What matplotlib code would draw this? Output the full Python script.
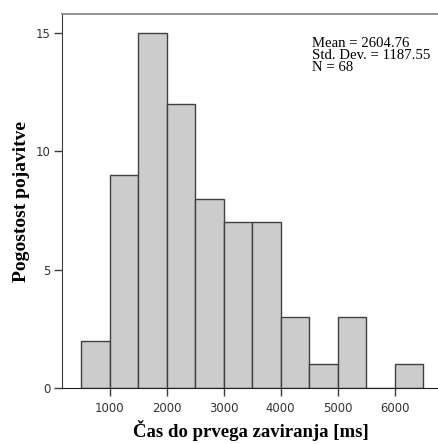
import matplotlib.pyplot as plt

bin_starts = [500, 1000, 1500, 2000, 2500, 3000, 3500, 4000, 4500, 5000, 5500, 6000]
counts = [2, 9, 15, 12, 8, 7, 7, 3, 1, 3, 0, 1]
bin_width = 500
x_ticks = [1000, 2000, 3000, 4000, 5000, 6000]
y_ticks = [0, 5, 10, 15]
stats_text = 'Mean = 2604.76\nStd. Dev. = 1187.55\nN = 68'

fig = plt.figure(figsize=(4.39, 4.44), dpi=100)
ax = fig.add_axes([62 / 439, 56 / 444, 1 - 62 / 439, (388 - 14.3) / 444])

ax.bar(bin_starts, counts, width=bin_width, align='edge',
       color='#cccccc', edgecolor='#404040', linewidth=1.0)

ax.set_xlim(160, 6780)
ax.set_ylim(0, 15.8)
ax.set_xticks(x_ticks)
ax.set_yticks(y_ticks)
ax.tick_params(axis='both', direction='out', length=6, width=1.0,
               color='#3c3c3c', labelsize=8.4, labelcolor='#333333')
ax.tick_params(axis='x', pad=4)
ax.tick_params(axis='y', pad=2)

ax.spines['right'].set_visible(False)
ax.spines['top'].set_color('#808080')
ax.spines['top'].set_linewidth(1.2)
ax.spines['left'].set_color('#3c3c3c')
ax.spines['bottom'].set_color('#202020')

ax.set_xlabel('Čas do prvega zaviranja [ms]', family='Liberation Serif',
              fontweight='bold', fontsize=13.5, labelpad=4)
ax.set_ylabel('Pogostost pojavitve', family='Liberation Serif',
              fontweight='bold', fontsize=14, labelpad=4)

ax.text(0.663, 0.94, stats_text, transform=ax.transAxes, family='Liberation Serif',
        fontsize=10.6, va='top', ha='left', linespacing=0.9)

fig.savefig('out.png', dpi=100)
